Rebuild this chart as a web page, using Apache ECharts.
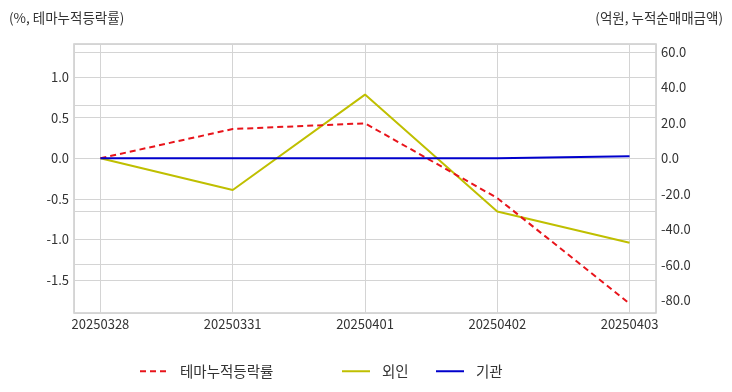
<!DOCTYPE html>
<html><head><meta charset="utf-8">
<script src="https://cdn.jsdelivr.net/npm/echarts@6/dist/echarts.min.js"></script>
<style>html,body{margin:0;padding:0;background:#fff}#c{width:732px;height:392px}</style>
</head><body><div id="c"></div>
<script>
const dates = ['20250328','20250331','20250401','20250402','20250403'];
const themeRate = [0.0, 0.36, 0.43, -0.49, -1.79];
const foreign = [0.0, -17.9, 35.9, -30.0, -47.6];
const inst = [0.0, 0.0, 0.0, 0.0, 1.2];
const leftTicks = [-1.5, -1.0, -0.5, 0.0, 0.5, 1.0];
const rightTicks = [-80, -60, -40, -20, 0, 20, 40, 60];
const xTicks = [0, 1, 2, 3, 4];

const FONT = '"Noto Sans CJK KR", "Noto Sans", sans-serif';
const pairs = arr => arr.map((v, i) => [i, v]);
const chart = echarts.init(document.getElementById('c'));
const gridLine = {show: true, lineStyle: {color: '#d4d4d4', width: 1}};
const legendBase = {top: 359, itemWidth: 28, itemHeight: 10, itemStyle: {opacity: 0},
  textStyle: {fontSize: 14.5, color: '#333', fontFamily: FONT, padding: [0, 0, 0, 7]}};
chart.setOption({
  animation: false,
  textStyle: {fontFamily: FONT},
  title: [
    {text: '(%, 테마누적등락률)', left: 4, top: 6, textStyle: {fontSize: 13.5, fontWeight: 'normal', color: '#333', fontFamily: FONT}},
    {text: '(억원, 누적순매매금액)', right: 4, top: 6, textStyle: {fontSize: 13.5, fontWeight: 'normal', color: '#333', fontFamily: FONT}}
  ],
  grid: {left: 74, right: 76, top: 44, bottom: 79, show: true, borderColor: '#cccccc', borderWidth: 1.5, backgroundColor: 'transparent'},
  legend: [
    Object.assign({data: ['테마누적등락률'], left: 134}, legendBase),
    Object.assign({data: ['외인'], left: 336}, legendBase),
    Object.assign({data: ['기관'], left: 430}, legendBase)
  ],
  xAxis: {
    type: 'value', min: -0.2, max: 4.2,
    axisLine: {show: false}, axisTick: {show: false},
    axisLabel: {customValues: xTicks, formatter: v => dates[Math.round(v)] || '', fontSize: 13, color: '#333', margin: 5, fontFamily: FONT},
    splitLine: Object.assign({customValues: xTicks}, gridLine)
  },
  yAxis: [
    {type: 'value', min: -1.906, max: 1.407, position: 'left',
     axisLine: {show: false}, axisTick: {show: false},
     axisLabel: {customValues: leftTicks, formatter: v => v.toFixed(1), fontSize: 13, color: '#333', margin: 5, fontFamily: FONT},
     splitLine: Object.assign({customValues: leftTicks}, gridLine)},
    {type: 'value', min: -87.2, max: 64.4, position: 'right',
     axisLine: {show: false}, axisTick: {show: false},
     axisLabel: {customValues: rightTicks, formatter: v => v.toFixed(1), fontSize: 13, color: '#333', margin: 5, fontFamily: FONT},
     splitLine: Object.assign({customValues: rightTicks}, gridLine)}
  ],
  series: [
    {name: '테마누적등락률', type: 'line', yAxisIndex: 0, data: pairs(themeRate), symbol: 'none',
     lineStyle: {color: '#e8141b', width: 2, type: [6, 4]}, itemStyle: {color: '#e8141b'}, z: 4},
    {name: '외인', type: 'line', yAxisIndex: 1, data: pairs(foreign), symbol: 'none',
     lineStyle: {color: '#bfbf00', width: 2}, itemStyle: {color: '#bfbf00'}, z: 3},
    {name: '기관', type: 'line', yAxisIndex: 1, data: pairs(inst), symbol: 'none',
     lineStyle: {color: '#0000cc', width: 2}, itemStyle: {color: '#0000cc'}, z: 5}
  ]
});
</script></body></html>
